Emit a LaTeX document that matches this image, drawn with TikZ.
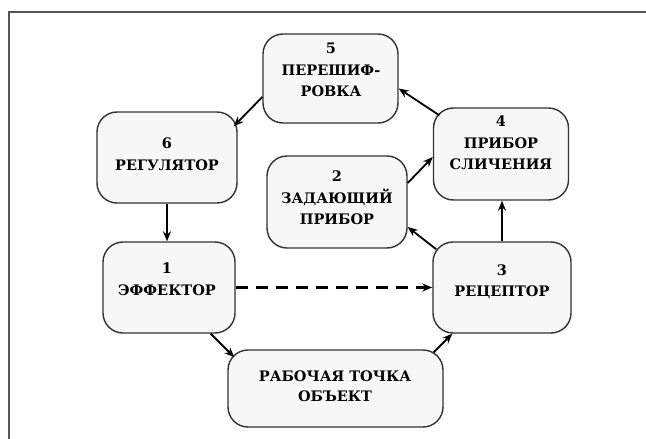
\documentclass[tikz,border=0pt]{standalone}
\usepackage{fontspec}
\setmainfont{DejaVu Serif}
\usetikzlibrary{arrows.meta}
\definecolor{boxfill}{HTML}{F7F7F7}
\definecolor{boxline}{HTML}{333333}
\definecolor{framecol}{HTML}{555555}
\begin{document}
\begin{tikzpicture}[x=1pt,y=-1pt,
  box/.style={draw=boxline, fill=boxfill, line width=1.4pt, rounded corners=20pt, inner sep=0pt},
  lbl/.style={align=center, font=\fontsize{14.5}{21.5}\selectfont\bfseries, inner sep=0pt},
  arr/.style={-{Stealth[length=10pt,width=8pt]}, line width=1.8pt},
]
\useasboundingbox (0,0) rectangle (646,439);
\fill[white] (0,0) rectangle (646,439);
\draw[framecol, line width=1.2pt] (9,439) -- (9,12) -- (646,12);

\node[box, minimum width=135pt, minimum height=89pt] (b5) at (330.5,78.5) {};
\node[box, minimum width=140pt, minimum height=91pt] (b6) at (167,157.5) {};
\node[box, minimum width=140pt, minimum height=92pt] (b2) at (337,202) {};
\node[box, minimum width=135pt, minimum height=92pt] (b4) at (501,154) {};
\node[box, minimum width=132pt, minimum height=91pt] (b1) at (169,287.5) {};
\node[box, minimum width=138pt, minimum height=91pt] (b3) at (502,287.5) {};
\node[box, minimum width=215pt, minimum height=77pt] (b0) at (335.5,388.5) {};

\node[lbl] (t5) at (331,70) {5\\ПЕРЕШИФ-\\РОВКА};
\node[lbl] (t6) at (167,154) {6\\РЕГУЛЯТОР};
\node[lbl] (t2) at (337,198) {2\\ЗАДАЮЩИЙ\\ПРИБОР};
\node[lbl] (t4) at (501,143) {4\\ПРИБОР\\СЛИЧЕНИЯ};
\node[lbl] (t1) at (167,279) {1\\ЭФФЕКТОР};
\node[lbl] (t3) at (502,282) {3\\РЕЦЕПТОР};
\node[lbl, font=\fontsize{14.5}{19.5}\selectfont\bfseries] (t0) at (335,386) {РАБОЧАЯ ТОЧКА\\ОБЪЕКТ};

\draw[arr] ([yshift=-18.5pt]b5.west) -- ([xshift=-4pt,yshift=-15pt]b6.north east);
\draw[arr] ([xshift=6.5pt,yshift=-8pt]b4.north west) -- ([yshift=-10pt]b5.east);
\draw[arr] ([yshift=19pt]b2.east) -- ([yshift=-3pt]b4.west);
\draw[arr] ([xshift=4pt,yshift=-8pt]b3.north west) -- ([yshift=-25pt]b2.east);
\draw[arr] (b3.north) -- (b3.north |- b4.south);
\draw[arr] (b6.south) -- (b6.south |- b1.north);
\draw[arr, dash pattern=on 12pt off 8pt, line width=2.2pt] (b1.east) -- (b3.west);
\draw[arr] ([xshift=-25pt]b1.south east) -- ([xshift=7pt,yshift=-8pt]b0.north west);
\draw[arr] ([xshift=-10pt,yshift=-3pt]b0.north east) -- ([xshift=20pt]b3.south west);
\end{tikzpicture}
\end{document}
